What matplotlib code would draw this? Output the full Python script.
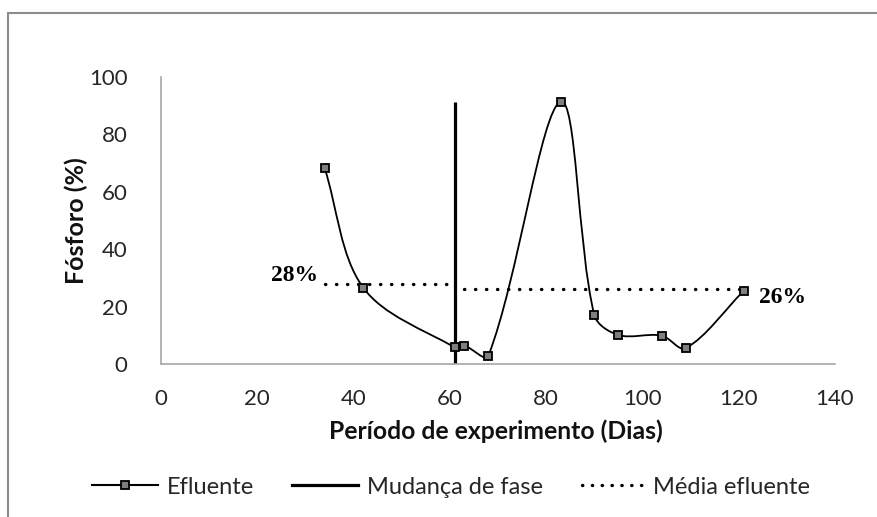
import math
import matplotlib
matplotlib.use("Agg")
import matplotlib.pyplot as plt
from matplotlib.path import Path
from matplotlib.patches import PathPatch
from matplotlib.lines import Line2D

plt.rcParams['font.family'] = ['Lato', 'DejaVu Sans']

# dados
dias = [34, 42, 61, 63, 68, 83, 90, 95, 104, 109, 121]
efluente = [68.2, 26.6, 5.8, 6.4, 2.9, 91.4, 17.1, 10.1, 9.9, 5.5, 25.4]

mudanca_x = [61, 61]
mudanca_y = [0, 91.4]

media_x1 = [34, 61]
media_y1 = [28, 28]
media_x2 = [63, 121]
media_y2 = [26, 26]

xticks = [0, 20, 40, 60, 80, 100, 120, 140]
yticks = [0, 20, 40, 60, 80, 100]

W, H = 878, 517
fig = plt.figure(figsize=(W / 100, H / 100), dpi=100)
ax = fig.add_axes([161 / W, 1 - 364 / H, (835 - 161) / W, (364 - 77) / H])

# escala aproximada em pixels (suavizacao feita no espaco da tela)
SX, SY = 674 / 140, 287 / 100


def smooth_path(xs, ys):
    pts = [(x * SX, y * SY) for x, y in zip(xs, ys)]
    n = len(pts)

    def dist(a, b):
        return math.hypot(b[0] - a[0], b[1] - a[1])

    verts = [pts[0]]
    codes = [Path.MOVETO]
    for i in range(n - 1):
        p0 = pts[i - 1] if i > 0 else pts[i]
        p1 = pts[i]
        p2 = pts[i + 1]
        p3 = pts[i + 2] if i + 2 < n else pts[i + 1]
        d01, d12, d23 = dist(p0, p1), dist(p1, p2), dist(p2, p3)
        f1 = d12 / (d01 + d12) / 3
        f2 = d12 / (d12 + d23) / 3
        c1 = (p1[0] + (p2[0] - p0[0]) * f1, p1[1] + (p2[1] - p0[1]) * f1)
        c2 = (p2[0] - (p3[0] - p1[0]) * f2, p2[1] - (p3[1] - p1[1]) * f2)
        verts += [c1, c2, p2]
        codes += [Path.CURVE4] * 3
    verts = [(x / SX, y / SY) for x, y in verts]
    return Path(verts, codes)


ax.add_patch(PathPatch(smooth_path(dias, efluente), facecolor='none',
                       edgecolor='black', lw=1.3, zorder=3))
ax.plot(dias, efluente, ls='none', marker='s', ms=5.5, mfc='#7f7f7f',
        mec='black', mew=1.3, zorder=4)

ax.plot(mudanca_x, mudanca_y, color='black', lw=2.3, zorder=2,
        solid_capstyle='butt')

dot = (0, (0.1, 3.2))
ax.plot(media_x1, media_y1, color='black', lw=2.4, ls=dot,
        dash_capstyle='round', zorder=2)
ax.plot(media_x2, media_y2, color='black', lw=2.4, ls=dot,
        dash_capstyle='round', zorder=2)

ax.text(32.7, 30.8, '28%', ha='right', va='center', fontsize=17,
        fontweight='bold', family='Liberation Serif')
ax.text(124.2, 23.0, '26%', ha='left', va='center', fontsize=17,
        fontweight='bold', family='Liberation Serif')

ax.set_xlim(0, 140)
ax.set_ylim(0, 100)
ax.set_xticks(xticks)
ax.set_yticks(yticks)
ax.tick_params(length=0, labelsize=16, colors='#262626')
ax.tick_params(axis='x', pad=18)
ax.tick_params(axis='y', pad=24)
for s in ['top', 'right']:
    ax.spines[s].set_visible(False)
for s in ['left', 'bottom']:
    ax.spines[s].set_color('#a6a6a6')
    ax.spines[s].set_linewidth(1.2)

# titulos dos eixos
fig.text(496 / W, 1 - 431 / H, 'Período de experimento (Dias)', ha='center',
         va='center', fontsize=17.8, fontweight='bold', color='#111111')
fig.text(76 / W, 1 - 221 / H, 'Fósforo (%)', ha='center', va='center',
         rotation=90, fontsize=18, fontweight='bold', color='#111111')

# legenda: tres entradas posicionadas separadamente
fs = 17
fpx = fs * 100 / 72
entradas = [
    (Line2D([], [], color='black', lw=1.5, marker='s', ms=5.5, mfc='#7f7f7f',
            mec='black', mew=1.3), 'Efluente', 92, 66, 9),
    (Line2D([], [], color='black', lw=2.3), 'Mudança de fase', 292, 66, 9),
    (Line2D([], [], color='black', lw=2.4, ls=(0, (0.1, 2.85)),
            dash_capstyle='round'), 'Média efluente', 582, 64, 7),
]
for h, lab, x0, hl, gap in entradas:
    leg = fig.legend([h], [lab], loc='center left',
                     bbox_to_anchor=(x0 / W, 1 - 487 / H), frameon=False,
                     fontsize=fs, handlelength=hl / fpx,
                     handletextpad=gap / fpx, borderpad=0, borderaxespad=0)
    for t in leg.get_texts():
        t.set_color('#262626')

# moldura do grafico
fig.add_artist(Line2D([8 / W, 8 / W], [0, 1 - 13 / H], color='#8c8c8c',
                      lw=1.5, transform=fig.transFigure))
fig.add_artist(Line2D([8 / W, 1], [1 - 13 / H, 1 - 13 / H], color='#8c8c8c',
                      lw=1.5, transform=fig.transFigure))

fig.savefig('out.png', dpi=100)
